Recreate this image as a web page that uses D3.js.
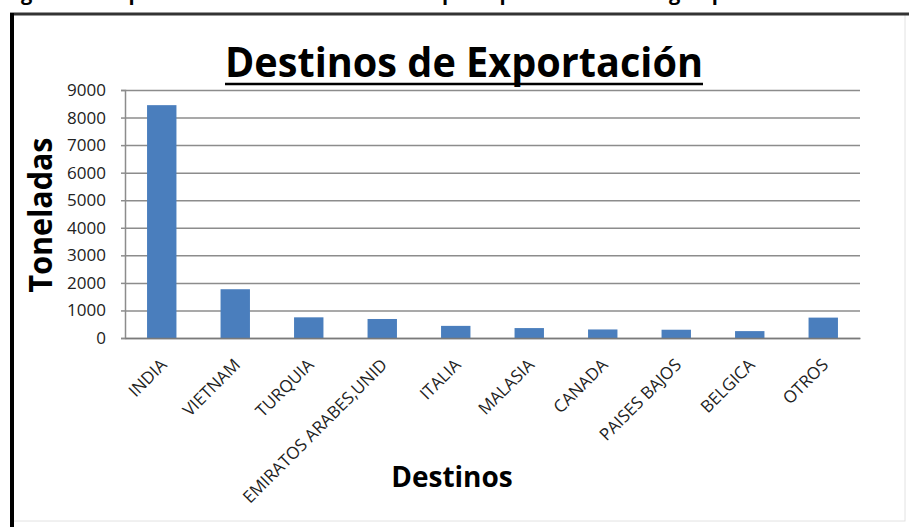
<!DOCTYPE html>
<html>
<head>
<meta charset="utf-8">
<script src="https://cdn.jsdelivr.net/npm/d3@7"></script>
<style>
  body { margin: 0; background: #fff; }
  svg { display: block; font-family: "Open Sans", sans-serif; }
</style>
</head>
<body>
<div id="chart-area"></div>
<script>
// data
var destinos = ["INDIA", "VIETNAM", "TURQUIA", "EMIRATOS ARABES,UNID", "ITALIA",
  "MALASIA", "CANADA", "PAISES BAJOS", "BELGICA", "OTROS"];
var toneladas = [8450, 1770, 750, 690, 440, 360, 310, 300, 250, 740];
var yTicks = [0, 1000, 2000, 3000, 4000, 5000, 6000, 7000, 8000, 9000];

var data = destinos.map((d, i) => ({ name: d, value: toneladas[i] }));

var svg = d3.select("#chart-area")
  .append("svg")
  .attr("width", 909)
  .attr("height", 527);

// caption of the page, cut at the top edge like in the source
svg.append("text")
  .attr("x", 4)
  .attr("y", 0)
  .attr("font-size", "20px")
  .attr("font-weight", "bold")
  .text("Figura 10. Exportación de fibra de lana a los principales destinos según país");

// frame of the chart
svg.append("rect")
  .attr("x", 12)
  .attr("y", 14)
  .attr("width", 893)
  .attr("height", 507)
  .attr("fill", "#fff")
  .attr("stroke", "#e2e2e2")
  .attr("stroke-width", 1);
svg.append("line")
  .attr("x1", 10).attr("x2", 909)
  .attr("y1", 14).attr("y2", 14)
  .attr("stroke", "#333").attr("stroke-width", 3);
svg.append("line")
  .attr("x1", 12).attr("x2", 12)
  .attr("y1", 13).attr("y2", 527)
  .attr("stroke", "#000").attr("stroke-width", 4);

var margin = { top: 90, right: 49, bottom: 189, left: 125 };
var width = 909 - margin.left - margin.right;
var height = 527 - margin.top - margin.bottom;

var g = svg.append("g")
  .attr("transform", "translate(" + margin.left + "," + margin.top + ")");

var x = d3.scaleBand()
  .domain(destinos)
  .range([0, width])
  .paddingInner(0.6)
  .paddingOuter(0.3);

var y = d3.scaleLinear()
  .domain([0, 9000])
  .range([height, 0]);

// gridlines
g.append("g")
  .attr("class", "grid")
  .call(d3.axisLeft(y).tickValues(yTicks).tickSize(-width).tickFormat(""))
  .call(s => s.select(".domain").remove())
  .selectAll("line")
    .attr("stroke", "#8c8c8c")
    .attr("stroke-width", 1.5);

var rects = g.selectAll("rect.bar")
  .data(data)
  .enter()
  .append("rect")
  .attr("class", "bar")
  .attr("x", d => x(d.name))
  .attr("y", d => y(d.value))
  .attr("width", x.bandwidth())
  .attr("height", d => height - y(d.value))
  .attr("fill", "#4a7ebd");

var yAxisCall = d3.axisLeft(y)
  .tickValues(yTicks)
  .tickFormat(d3.format("d"))
  .tickSize(4)
  .tickPadding(15);
g.append("g")
  .attr("class", "y axis")
  .call(yAxisCall)
  .call(s => s.selectAll("line, path").attr("stroke", "#8c8c8c").attr("stroke-width", 1.5))
  .selectAll("text")
    .attr("font-size", "17px")
    .attr("font-family", "Open Sans")
    .attr("fill", "#222");

var xAxisCall = d3.axisBottom(x).tickSize(0);
g.append("g")
  .attr("class", "x axis")
  .attr("transform", "translate(0," + height + ")")
  .call(xAxisCall)
  .call(s => s.select(".domain").attr("stroke", "#7a7a7a").attr("stroke-width", 1.5))
  .selectAll("text")
    .attr("x", 0)
    .attr("y", 0)
    .attr("dy", 0)
    .attr("font-size", "17px")
    .attr("font-family", "Open Sans")
    .attr("fill", "#222")
    .attr("text-anchor", "end")
    .attr("transform", "translate(6,28) rotate(-45)");

// chart title, underlined
var title = svg.append("text")
  .attr("x", 464)
  .attr("y", 77)
  .attr("font-size", "42px")
  .attr("font-weight", "bold")
  .attr("text-anchor", "middle")
  .attr("textLength", 478)
  .attr("lengthAdjust", "spacingAndGlyphs")
  .text("Destinos de Exportación");
var tb = title.node().getBBox();
svg.append("line")
  .attr("x1", tb.x).attr("x2", tb.x + tb.width)
  .attr("y1", 84).attr("y2", 84)
  .attr("stroke", "#000").attr("stroke-width", 2.5);

svg.append("text")
  .attr("class", "x axis-label")
  .attr("x", 452)
  .attr("y", 487)
  .attr("font-size", "28px")
  .attr("font-weight", "bold")
  .attr("text-anchor", "middle")
  .text("Destinos");

svg.append("text")
  .attr("class", "y axis-label")
  .attr("transform", "translate(52,215) rotate(-90)")
  .attr("font-size", "32px")
  .attr("font-weight", "bold")
  .attr("text-anchor", "middle")
  .attr("textLength", 155)
  .attr("lengthAdjust", "spacingAndGlyphs")
  .text("Toneladas");
</script>
</body>
</html>
